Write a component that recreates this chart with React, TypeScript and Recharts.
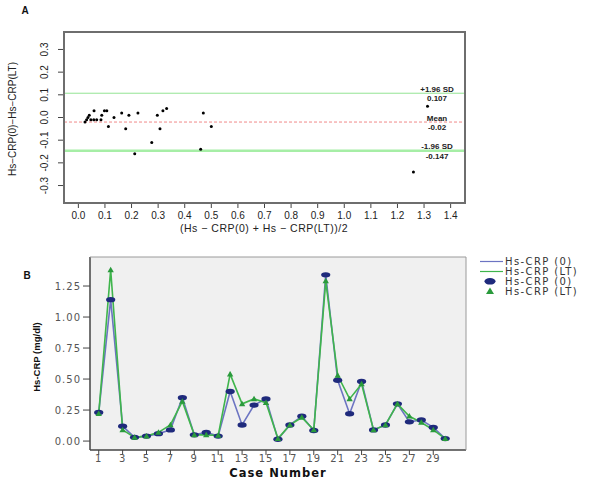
import {
  CartesianGrid,
  ComposedChart,
  Line,
  ReferenceLine,
  Scatter,
  ScatterChart,
  XAxis,
  YAxis,
} from "recharts";

const FONT = "'Liberation Sans', Arial, Helvetica, sans-serif";
const WIDE = "'DejaVu Sans', Verdana, sans-serif";

// Panel A: Bland-Altman (mean vs difference)
const baMean = [
  0.025, 0.031, 0.036, 0.041, 0.047, 0.058, 0.069, 0.085, 0.059, 0.088, 0.098,
  0.107, 0.113, 0.134, 0.163, 0.178, 0.19, 0.212, 0.224, 0.276, 0.297, 0.307,
  0.318, 0.332, 0.46, 0.47, 0.5, 1.26, 1.313,
];
const baDiff = [
  -0.02, -0.01, 0.0, 0.01, -0.01, -0.01, -0.01, -0.01, 0.03, 0.01, 0.03, 0.03,
  -0.04, 0.0, 0.02, -0.05, 0.01, -0.16, 0.02, -0.11, 0.01, -0.05, 0.03, 0.04,
  -0.14, 0.02, -0.04, -0.24, 0.05,
];
const baXTicks = [0, 0.1, 0.2, 0.3, 0.4, 0.5, 0.6, 0.7, 0.8, 0.9, 1.0, 1.1, 1.2, 1.3, 1.4];
const baYTicks = [-0.3, -0.2, -0.1, 0, 0.1, 0.2, 0.3];
const sdUpper = 0.107;
const sdMean = -0.02;
const sdLower = -0.147;

// Panel B: Hs-CRP per case
const caseNumbers = [
  1, 2, 3, 4, 5, 6, 7, 8, 9, 10, 11, 12, 13, 14, 15, 16, 17, 18, 19, 20, 21, 22,
  23, 24, 25, 26, 27, 28, 29, 30,
];
const crp0 = [
  0.23, 1.14, 0.12, 0.03, 0.04, 0.06, 0.09, 0.35, 0.05, 0.07, 0.04, 0.4, 0.13,
  0.29, 0.34, 0.015, 0.13, 0.2, 0.085, 1.34, 0.49, 0.22, 0.48, 0.09, 0.13, 0.3,
  0.155, 0.17, 0.11, 0.02,
];
const crpLT = [
  0.22, 1.38, 0.09, 0.03, 0.04, 0.07, 0.13, 0.32, 0.05, 0.05, 0.045, 0.54, 0.3,
  0.34, 0.31, 0.02, 0.13, 0.19, 0.09, 1.29, 0.53, 0.34, 0.46, 0.09, 0.13, 0.3,
  0.2, 0.15, 0.09, 0.02,
];
const caseTicks = [1, 3, 5, 7, 9, 11, 13, 15, 17, 19, 21, 23, 25, 27, 29];
const crpTicks = [0, 0.25, 0.5, 0.75, 1.0, 1.25];

const baData = baMean.map((x, i) => ({ x, y: baDiff[i] }));
const caseData = caseNumbers.map((c, i) => ({ c, crp0: crp0[i], lt: crpLT[i] }));

const A_X: [number, number] = [-0.054, 1.454];
const A_Y: [number, number] = [-0.377, 0.377];
const B_X: [number, number] = [0.27, 31.74];
const B_Y: [number, number] = [-0.072, 1.484];

// chart geometry (used for the plot frames)
const W = 600;
const A_H = 240;
const A_M = { top: 32, right: 135, bottom: 15, left: 14 };
const A_YW = 50;
const A_XH = 22;
const B_TOP = 240;
const B_H = 239;
const B_M = { top: 17, right: 134, bottom: 5, left: 40 };
const B_YW = 50;
const B_XH = 24;

const frameA = {
  x: A_M.left + A_YW,
  y: A_M.top,
  w: W - A_M.right - A_M.left - A_YW,
  h: A_H - A_M.top - A_M.bottom - A_XH,
};
const frameB = {
  x: B_M.left + B_YW,
  y: B_TOP + B_M.top,
  w: W - B_M.right - B_M.left - B_YW,
  h: B_H - B_M.top - B_M.bottom - B_XH,
};

// R-style vertical tick labels, placed just left of the tick marks
function RotTick(props: any) {
  const { y = 0, payload } = props;
  const tx = frameA.x - 16.5;
  return (
    <text
      transform={`translate(${tx},${y}) rotate(-90)`}
      textAnchor="middle"
      fontSize={10}
      fontFamily={FONT}
      fill="#222"
    >
      {Number(payload?.value ?? 0).toFixed(1)}
    </text>
  );
}

// two-line label at the right end of a reference line
function sdLabel(top: string, bottom: string) {
  return (props: any) => {
    const vb = props.viewBox ?? {};
    const cx = (vb.x ?? 0) + (vb.width ?? 0) - 28;
    const y = vb.y ?? 0;
    return (
      <g fontFamily={FONT} fontSize={8} fontWeight={700} fill="#222" textAnchor="middle">
        <text x={cx} y={y - 1.5}>{top}</text>
        <text x={cx} y={y + 8}>{bottom}</text>
      </g>
    );
  };
}

function BlackDot(props: any) {
  return <circle cx={props.cx} cy={props.cy} r={1.5} fill="#000" />;
}

function NavyDot(props: any) {
  const { cx, cy, index } = props;
  return <ellipse key={`n-${index}`} cx={cx} cy={cy} rx={4.6} ry={2.7} fill="#1f2a7c" />;
}

function GreenTri(props: any) {
  const { cx, cy, index } = props;
  return (
    <path
      key={`t-${index}`}
      d={`M${cx},${cy - 3.2} L${cx + 3.2},${cy + 2.3} L${cx - 3.2},${cy + 2.3} Z`}
      fill="#2a9a3c"
    />
  );
}

export default function App() {
  return (
    <div
      style={{
        position: "absolute",
        left: 0,
        top: 0,
        width: 600,
        height: 479,
        background: "#fff",
        fontFamily: FONT,
      }}
    >
      <div style={{ position: "absolute", left: 0, top: 0 }}>
        <ScatterChart width={W} height={A_H} margin={A_M}>
          <XAxis
            type="number"
            dataKey="x"
            domain={A_X}
            ticks={baXTicks}
            interval={0}
            allowDataOverflow
            axisLine={false}
            tickSize={5}
            tickMargin={4}
            height={A_XH}
            tickLine={{ stroke: "#444" }}
            tick={{ fontSize: 10, fill: "#222", fontFamily: FONT }}
            tickFormatter={(v) => Number(v).toFixed(1)}
          />
          <YAxis
            type="number"
            dataKey="y"
            domain={A_Y}
            ticks={baYTicks}
            interval={0}
            allowDataOverflow
            axisLine={false}
            width={A_YW}
            tickSize={6}
            tickLine={{ stroke: "#444" }}
            tick={<RotTick />}
          />
          <ReferenceLine y={sdUpper} stroke="#93e493" strokeWidth={1} label={sdLabel("+1.96 SD", "0.107")} />
          <ReferenceLine
            y={sdMean}
            stroke="#f08a8a"
            strokeWidth={1}
            strokeDasharray="3 2"
            label={sdLabel("Mean", "-0.02")}
          />
          <ReferenceLine y={sdLower} stroke="#a6eea6" strokeWidth={2.5} label={sdLabel("-1.96 SD", "-0.147")} />
          <Scatter data={baData} shape={<BlackDot />} isAnimationActive={false} />
        </ScatterChart>
      </div>

      <div style={{ position: "absolute", left: 0, top: B_TOP }}>
        <ComposedChart width={W} height={B_H} data={caseData} margin={B_M}>
          <CartesianGrid fill="#f0f0f0" horizontal={false} vertical={false} />
          <XAxis
            type="number"
            dataKey="c"
            domain={B_X}
            ticks={caseTicks}
            interval={0}
            allowDataOverflow
            height={B_XH}
            tickSize={5}
            tickMargin={0}
            axisLine={{ stroke: "#444", strokeWidth: 1.5 }}
            tickLine={{ stroke: "#444" }}
            tick={{ fontSize: 10, fill: "#555", fontFamily: WIDE, letterSpacing: 1 }}
          />
          <YAxis
            type="number"
            domain={B_Y}
            ticks={crpTicks}
            interval={0}
            allowDataOverflow
            width={B_YW}
            tickSize={7}
            axisLine={{ stroke: "#444", strokeWidth: 1.5 }}
            tickLine={{ stroke: "#444" }}
            tick={{ fontSize: 10, fill: "#555", fontFamily: WIDE, letterSpacing: 1 }}
            tickFormatter={(v) => Number(v).toFixed(2)}
          />
          <Line type="linear" dataKey="crp0" stroke="#6c74c2" strokeWidth={1.6} dot={false} activeDot={false} isAnimationActive={false} />
          <Line type="linear" dataKey="lt" stroke="#3fb54c" strokeWidth={1.6} dot={false} activeDot={false} isAnimationActive={false} />
          <Line type="linear" dataKey="crp0" stroke="none" dot={NavyDot} activeDot={false} isAnimationActive={false} />
          <Line type="linear" dataKey="lt" stroke="none" dot={GreenTri} activeDot={false} isAnimationActive={false} />
        </ComposedChart>
      </div>

      <svg
        width={600}
        height={479}
        style={{ position: "absolute", left: 0, top: 0, pointerEvents: "none", zIndex: 2 }}
        fontFamily={FONT}
      >
        {/* plot frames */}
        <rect
          x={frameA.x}
          y={frameA.y}
          width={frameA.w}
          height={frameA.h}
          fill="none"
          stroke="#6e6e6e"
          strokeWidth={2}
        />
        <polyline
          points={`${frameB.x},${frameB.y} ${frameB.x + frameB.w},${frameB.y} ${frameB.x + frameB.w},${frameB.y + frameB.h}`}
          fill="none"
          stroke="#9a9a9a"
          strokeWidth={1}
        />

        <text x={25} y={14} fontSize={10} fontWeight={700} textAnchor="middle" fill="#111">A</text>
        <text
          transform="translate(15.5,119) rotate(-90)"
          fontSize={10}
          textAnchor="middle"
          fill="#222"
        >
          Hs−CRP(0)−Hs−CRP(LT)
        </text>
        <text x={264} y={231.5} fontSize={10.5} textAnchor="middle" fill="#222" letterSpacing={0.5}>
          (Hs − CRP(0) + Hs − CRP(LT))/2
        </text>

        <text x={27} y={279} fontSize={10} fontWeight={700} textAnchor="middle" fill="#111">B</text>
        <text
          transform="translate(39.5,357) rotate(-90)"
          fontSize={9.5}
          fontWeight={700}
          textAnchor="middle"
          fill="#111"
        >
          Hs-CRP (mg/dl)
        </text>
        <text
          x={278}
          y={476.5}
          fontSize={11.5}
          fontWeight={700}
          fontFamily={WIDE}
          textAnchor="middle"
          fill="#111"
          letterSpacing={1}
        >
          Case Number
        </text>

        <g fontSize={10} fill="#333" fontFamily={WIDE} letterSpacing={1.4}>
          <line x1={480} x2={503} y1={261.5} y2={261.5} stroke="#6c74c2" strokeWidth={1.2} />
          <text x={505} y={265}>Hs-CRP (0)</text>
          <line x1={480} x2={503} y1={271.5} y2={271.5} stroke="#3fb54c" strokeWidth={1.2} />
          <text x={505} y={275}>Hs-CRP (LT)</text>
          <ellipse cx={490} cy={281.3} rx={5.5} ry={3.3} fill="#1f2a7c" />
          <text x={505} y={285}>Hs-CRP (0)</text>
          <path d="M490,287.5 L494,294 L486,294 Z" fill="#2a9a3c" />
          <text x={505} y={295}>Hs-CRP (LT)</text>
        </g>
      </svg>
    </div>
  );
}
